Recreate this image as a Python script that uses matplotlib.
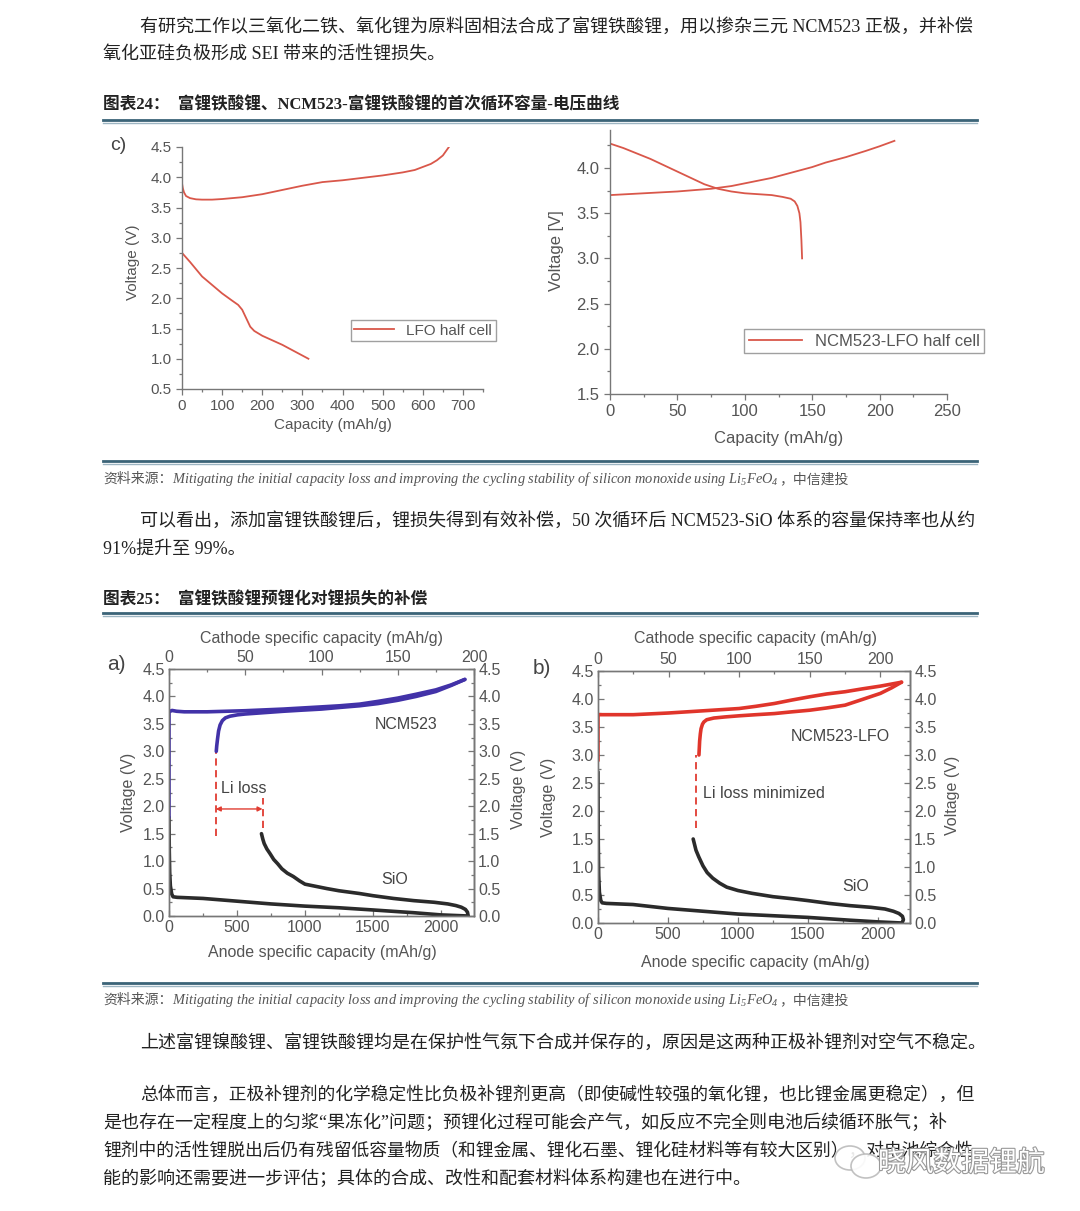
import matplotlib.pyplot as plt
import matplotlib.patheffects as pe
from matplotlib.patches import Ellipse
from matplotlib.ticker import MultipleLocator

plt.rcParams['mathtext.fontset'] = 'custom'
plt.rcParams['mathtext.rm'] = 'Liberation Serif:italic'
plt.rcParams['mathtext.it'] = 'Liberation Serif:italic'

W, H = 1080, 1211
SERIF = ['Liberation Serif', 'Noto Sans CJK SC']
SANS = ['Liberation Sans', 'DejaVu Sans']
GRAY = '#555555'

# ---- chart c: LFO half cell ----
c_chg_cap = [0, 0, 2, 5, 10, 20, 35, 50, 75, 100, 150, 200, 250, 300, 350, 400, 450, 500, 550, 580, 600, 620, 635, 650, 665]
c_chg_v = [2.75, 3.90, 3.82, 3.75, 3.69, 3.655, 3.635, 3.63, 3.63, 3.64, 3.67, 3.72, 3.79, 3.86, 3.92, 3.95, 3.99, 4.03, 4.08, 4.12, 4.17, 4.22, 4.28, 4.36, 4.50]
c_dis_cap = [0, 20, 50, 75, 100, 125, 140, 150, 160, 170, 180, 200, 250, 315]
c_dis_v = [2.75, 2.60, 2.36, 2.22, 2.08, 1.96, 1.89, 1.81, 1.67, 1.53, 1.46, 1.38, 1.23, 1.00]

# ---- chart d: NCM523-LFO half cell ----
d_chg_cap = [0, 0, 25, 50, 75, 90, 100, 110, 120, 130, 140, 150, 160, 175, 190, 200, 211]
d_chg_v = [2.98, 3.70, 3.72, 3.74, 3.77, 3.80, 3.83, 3.86, 3.89, 3.93, 3.97, 4.01, 4.06, 4.12, 4.19, 4.24, 4.30]
d_dis_cap = [0, 10, 20, 30, 40, 50, 60, 70, 80, 90, 100, 110, 120, 128, 134, 137, 139, 140.5, 141.3, 142, 142.5]
d_dis_v = [4.27, 4.22, 4.16, 4.10, 4.03, 3.96, 3.89, 3.82, 3.77, 3.74, 3.72, 3.71, 3.70, 3.68, 3.66, 3.63, 3.58, 3.50, 3.40, 3.20, 3.00]

# ---- chart a: NCM523 (cathode) / SiO (anode) ----
a_ncm_chg_cap = [0, 0, 2, 5, 10, 25, 50, 75, 100, 112, 125, 137, 150, 162, 175, 185, 194]
a_ncm_chg_v = [1.80, 3.72, 3.745, 3.73, 3.72, 3.72, 3.74, 3.77, 3.81, 3.83, 3.86, 3.91, 3.97, 4.04, 4.12, 4.21, 4.31]
a_ncm_dis_cap = [194, 185, 175, 162, 150, 137, 125, 112, 100, 87, 75, 60, 50, 45, 40, 37, 35, 33.5, 32.5, 31.8, 31.3, 31]
a_ncm_dis_v = [4.31, 4.20, 4.09, 4.00, 3.93, 3.87, 3.83, 3.80, 3.77, 3.75, 3.73, 3.70, 3.68, 3.665, 3.64, 3.61, 3.56, 3.48, 3.37, 3.22, 3.10, 3.00]
a_sio_lith_cap = [0, 2, 5, 10, 20, 30, 60, 250, 500, 750, 1000, 1250, 1500, 1800, 2000, 2100, 2200]
a_sio_lith_v = [1.80, 1.20, 0.80, 0.55, 0.40, 0.35, 0.34, 0.32, 0.27, 0.22, 0.18, 0.15, 0.11, 0.06, 0.02, 0.01, 0.00]
a_sio_del_cap = [2200, 2195, 2180, 2150, 2110, 2050, 1950, 1800, 1650, 1500, 1400, 1250, 1160, 1080, 1000, 960, 914, 870, 830, 800, 770, 742, 720, 700, 690, 680]
a_sio_del_v = [0.00, 0.07, 0.12, 0.16, 0.19, 0.22, 0.25, 0.28, 0.32, 0.37, 0.41, 0.46, 0.50, 0.54, 0.58, 0.64, 0.72, 0.78, 0.86, 0.95, 1.03, 1.14, 1.22, 1.32, 1.40, 1.50]
a_loss = [344, 688]

# ---- chart b: NCM523-LFO (cathode) / SiO (anode) ----
b_chg_cap = [0, 0, 25, 50, 75, 100, 112, 125, 137, 150, 162, 175, 187, 200, 215]
b_chg_v = [2.90, 3.72, 3.72, 3.75, 3.79, 3.83, 3.87, 3.92, 3.98, 4.04, 4.09, 4.13, 4.18, 4.23, 4.30]
b_dis_cap = [215, 208, 200, 187, 175, 162, 150, 137, 125, 112, 100, 90, 82, 77, 75, 74, 73, 72.5, 72, 71.5]
b_dis_v = [4.30, 4.20, 4.10, 3.99, 3.89, 3.84, 3.80, 3.77, 3.74, 3.72, 3.70, 3.68, 3.66, 3.63, 3.59, 3.55, 3.47, 3.38, 3.25, 3.00]
b_sio_lith_cap = [0, 2, 5, 10, 20, 30, 60, 250, 500, 750, 1000, 1250, 1500, 1800, 2000, 2172]
b_sio_lith_v = [2.70, 1.40, 0.85, 0.55, 0.40, 0.36, 0.35, 0.33, 0.26, 0.21, 0.16, 0.13, 0.10, 0.05, 0.02, 0.00]
b_sio_del_cap = [2172, 2182, 2175, 2150, 2110, 2050, 1950, 1800, 1650, 1500, 1400, 1250, 1100, 1000, 920, 870, 820, 780, 750, 720, 700, 690, 680]
b_sio_del_v = [0.00, 0.06, 0.12, 0.17, 0.21, 0.25, 0.28, 0.31, 0.35, 0.40, 0.43, 0.47, 0.53, 0.58, 0.64, 0.71, 0.80, 0.90, 1.02, 1.18, 1.30, 1.40, 1.50]
b_loss = 697

fig = plt.figure(figsize=(W / 100, H / 100), dpi=100)
page = fig.add_axes([0, 0, 1, 1])
page.set_xlim(0, W)
page.set_ylim(H, 0)
page.axis('off')


def fx(x):
    return x / W


def fy(y):
    return 1 - y / H


def add_ax(box):
    x0, y0, x1, y1 = box
    return fig.add_axes([fx(x0), fy(y1), (x1 - x0) / W, (y1 - y0) / H])


def text(x, y, s, **kw):
    kw.setdefault('family', SERIF)
    kw.setdefault('fontsize', 13)
    kw.setdefault('va', 'center')
    kw.setdefault('color', '#222222')
    return page.text(x, y, s, **kw)


def rule(y):
    page.plot([103, 977], [y, y], lw=2.0, color='#3b6478')
    page.plot([103, 977], [y + 3, y + 3], lw=1.0, color='#9db5c2')


def source(y):
    kw = dict(color='#555555', va='center')
    t1 = text(103, y, '资料来源：', family=['Noto Sans CJK SC'], fontsize=10, **kw)
    t2 = page.annotate('Mitigating the initial capacity loss and improving the cycling stability of '
                       'silicon monoxide using Li$_5$FeO$_4$', xy=(1, 0.5), xycoords=t1,
                       family='Liberation Serif', style='italic', ha='left', fontsize=10.4, **kw)
    page.annotate('，中信建投', xy=(1, 0.5), xycoords=t2, family=['Noto Sans CJK SC'],
                  ha='left', fontsize=10, **kw)


def style_axes(ax, size, direction):
    for s in ax.spines.values():
        s.set_color('#777777')
        s.set_linewidth(1.0)
    ax.tick_params(which='both', direction=direction, colors='#777777', labelcolor=GRAY,
                   labelsize=size, width=0.9)
    ax.tick_params(which='major', length=4)
    ax.tick_params(which='minor', length=2.5)
    for lab in ax.get_xticklabels() + ax.get_yticklabels():
        lab.set_family(SANS)


# ---------------- page text ----------------
text(140, 27, '有研究工作以三氧化二铁、氧化锂为原料固相法合成了富锂铁酸锂，用以掺杂三元 NCM523 正极，并补偿')
text(103, 55, '氧化亚硅负极形成 SEI 带来的活性锂损失。')
text(103, 105, '图表24：  富锂铁酸锂、NCM523-富锂铁酸锂的首次循环容量-电压曲线', fontsize=12, weight='bold')
rule(120)
rule(461)
source(479)
text(140, 521, '可以看出，添加富锂铁酸锂后，锂损失得到有效补偿，50 次循环后 NCM523-SiO 体系的容量保持率也从约')
text(103, 549, '91%提升至 99%。')
text(103, 600, '图表25：  富锂铁酸锂预锂化对锂损失的补偿', fontsize=12, weight='bold')
rule(613)
rule(983)
source(1000)
text(140, 1043, '上述富锂镍酸锂、富锂铁酸锂均是在保护性气氛下合成并保存的，原因是这两种正极补锂剂对空气不稳定。')
text(140, 1095, '总体而言，正极补锂剂的化学稳定性比负极补锂剂更高（即使碱性较强的氧化锂，也比锂金属更稳定），但',
     fontsize=12.8)
text(103, 1123, '是也存在一定程度上的匀浆“果冻化”问题；预锂化过程可能会产气，如反应不完全则电池后续循环胀气；补')
text(103, 1151, '锂剂中的活性锂脱出后仍有残留低容量物质（和锂金属、锂化石墨、锂化硅材料等有较大区别），对电池综合性',
     fontsize=12.8)
text(103, 1179, '能的影响还需要进一步评估；具体的合成、改性和配套材料体系构建也在进行中。')

# ---------------- chart c ----------------
box_c = (182, 147, 483, 389)
ax = add_ax(box_c)
ax.plot(c_chg_cap, c_chg_v, color='#d9574a', lw=1.3, label='LFO half cell')
ax.plot(c_dis_cap, c_dis_v, color='#d9574a', lw=1.3)
ax.set_xlim(0, 750)
ax.set_ylim(0.5, 4.5)
ax.set_xticks(range(0, 701, 100))
ax.set_yticks([0.5, 1.0, 1.5, 2.0, 2.5, 3.0, 3.5, 4.0, 4.5])
ax.xaxis.set_minor_locator(MultipleLocator(50))
ax.yaxis.set_minor_locator(MultipleLocator(0.25))
ax.spines['top'].set_visible(False)
ax.spines['right'].set_visible(False)
ax.patch.set_alpha(0)
style_axes(ax, 11, 'out')
leg = ax.legend(loc='lower left', bbox_to_anchor=((343 - 182) / 301, (389 - 349) / 242),
                frameon=True, fancybox=False, borderpad=0.25, handlelength=2.6,
                prop={'family': SANS, 'size': 11}, labelcolor=GRAY)
leg.get_frame().set_edgecolor('#888888')
text(333, 425, 'Capacity (mAh/g)', family=SANS, fontsize=11, color=GRAY, ha='center')
text(133, 262, 'Voltage (V)', family=SANS, fontsize=11, color=GRAY, ha='center', rotation=90)
text(110, 145, 'c)', family=SANS, fontsize=14, color='#444444')

# ---------------- chart d ----------------
box_d = (610, 130, 947, 394)
ax = add_ax(box_d)
ax.plot(d_chg_cap, d_chg_v, color='#d9574a', lw=1.3, label='NCM523-LFO half cell')
ax.plot(d_dis_cap, d_dis_v, color='#d9574a', lw=1.3)
ax.set_xlim(0, 250)
ax.set_ylim(1.5, 4.42)
ax.set_xticks(range(0, 251, 50))
ax.set_yticks([1.5, 2.0, 2.5, 3.0, 3.5, 4.0])
ax.xaxis.set_minor_locator(MultipleLocator(25))
ax.yaxis.set_minor_locator(MultipleLocator(0.25))
ax.spines['top'].set_visible(False)
ax.spines['right'].set_visible(False)
ax.patch.set_alpha(0)
style_axes(ax, 12, 'out')
leg = ax.legend(loc='lower left', bbox_to_anchor=((736 - 610) / 337, (394 - 361) / 264),
                frameon=True, fancybox=False, borderpad=0.25, handlelength=3.2,
                prop={'family': SANS, 'size': 12}, labelcolor=GRAY)
leg.get_frame().set_edgecolor('#888888')
text(779, 438, 'Capacity (mAh/g)', family=SANS, fontsize=12, color=GRAY, ha='center')
text(557, 251, 'Voltage [V]', family=SANS, fontsize=12, color=GRAY, ha='center', rotation=90)


# ---------------- charts a and b ----------------
def dual_chart(box, an_max, ca_max, ncm, sio, color):
    ax = add_ax(box)
    ax.set_xlim(0, an_max)
    ax.set_ylim(0, 4.5)
    ax.set_xticks(range(0, 2001, 500))
    ax.set_yticks([0.0, 0.5, 1.0, 1.5, 2.0, 2.5, 3.0, 3.5, 4.0, 4.5])
    ax.xaxis.set_minor_locator(MultipleLocator(250))
    ax.yaxis.set_minor_locator(MultipleLocator(0.25))
    ax.yaxis.set_major_formatter(plt.FormatStrFormatter('%.1f'))
    for cap, v in sio:
        ax.plot(cap, v, color='#2b2b2b', lw=2.6, solid_capstyle='round', solid_joinstyle='round')
    top = ax.twiny()
    top.set_xlim(0, ca_max)
    top.set_ylim(0, 4.5)
    top.set_xticks(range(0, 201, 50))
    top.xaxis.set_minor_locator(MultipleLocator(25))
    for cap, v in ncm:
        top.plot(cap, v, color=color, lw=2.6, solid_capstyle='round', solid_joinstyle='round')
    right = ax.secondary_yaxis('right')
    right.set_yticks([0.0, 0.5, 1.0, 1.5, 2.0, 2.5, 3.0, 3.5, 4.0, 4.5])
    right.yaxis.set_minor_locator(MultipleLocator(0.25))
    right.yaxis.set_major_formatter(plt.FormatStrFormatter('%.1f'))
    for a in (ax, top, right):
        style_axes(a, 11.5, 'in')
        a.tick_params(pad=3)
    return ax


box_a = (169, 669, 474, 916)
ax = dual_chart(box_a, 2243, 197,
                [(a_ncm_chg_cap, a_ncm_chg_v), (a_ncm_dis_cap, a_ncm_dis_v)],
                [(a_sio_lith_cap, a_sio_lith_v), (a_sio_del_cap, a_sio_del_v)],
                '#4232a8')
ax.plot([a_loss[0], a_loss[0]], [1.45, 3.0], color='#e03c31', lw=1.3, ls=(0, (4, 2.5)))
ax.plot([a_loss[1], a_loss[1]], [1.6, 2.15], color='#e03c31', lw=1.3, ls=(0, (4, 2.5)))
ax.annotate('', xy=(a_loss[0], 1.95), xytext=(a_loss[1], 1.95),
            arrowprops=dict(arrowstyle='<|-|>', color='#e03c31', lw=1.0, shrinkA=0, shrinkB=0,
                            mutation_scale=7))
ax.text(380, 2.32, 'Li loss', family=SANS, fontsize=11.5, color='#444444', va='center')
ax.text(1745, 3.49, 'NCM523', family=SANS, fontsize=11.5, color='#444444', ha='center', va='center')
ax.text(1656, 0.66, 'SiO', family=SANS, fontsize=11.5, color='#444444', ha='center', va='center')
text(322, 638, 'Cathode specific capacity (mAh/g)', family=SANS, fontsize=11.5, color=GRAY, ha='center')
text(322, 953, 'Anode specific capacity (mAh/g)', family=SANS, fontsize=11.5, color=GRAY, ha='center')
text(129, 792, 'Voltage (V)', family=SANS, fontsize=11.5, color=GRAY, ha='center', rotation=90)
text(518, 789, 'Voltage (V)', family=SANS, fontsize=11.5, color=GRAY, ha='center', rotation=90)
text(107, 664, 'a)', family=SANS, fontsize=15, color='#444444')

box_b = (598, 671, 910, 923)
ax = dual_chart(box_b, 2229, 221,
                [(b_chg_cap, b_chg_v), (b_dis_cap, b_dis_v)],
                [(b_sio_lith_cap, b_sio_lith_v), (b_sio_del_cap, b_sio_del_v)],
                '#e0352b')
ax.plot([b_loss, b_loss], [1.69, 3.0], color='#e03c31', lw=1.3, ls=(0, (4, 2.5)))
ax.text(752, 2.32, 'Li loss minimized', family=SANS, fontsize=11.5, color='#444444', va='center')
ax.text(1730, 3.33, 'NCM523-LFO', family=SANS, fontsize=11.5, color='#444444', ha='center', va='center')
ax.text(1842, 0.65, 'SiO', family=SANS, fontsize=11.5, color='#444444', ha='center', va='center')
text(755, 638, 'Cathode specific capacity (mAh/g)', family=SANS, fontsize=11.5, color=GRAY, ha='center')
text(755, 962, 'Anode specific capacity (mAh/g)', family=SANS, fontsize=11.5, color=GRAY, ha='center')
text(548, 797, 'Voltage (V)', family=SANS, fontsize=11.5, color=GRAY, ha='center', rotation=90)
text(953, 795, 'Voltage (V)', family=SANS, fontsize=11.5, color=GRAY, ha='center', rotation=90)
text(533, 668, 'b)', family=SANS, fontsize=15, color='#444444')

# ---------------- watermark ----------------
for (cx, cy, w, h) in [(850, 1158, 30, 24), (866, 1166, 30, 24)]:
    fig.add_artist(Ellipse((fx(cx), fy(cy)), w / W, h / H, transform=fig.transFigure,
                           facecolor='white', edgecolor='#bbbbbb', lw=1.2, alpha=0.9))
wm = fig.text(fx(878), fy(1163), '晓风数据锂航', family=['Noto Sans CJK SC'], fontsize=20,
              color='white', va='center',
              path_effects=[pe.withStroke(linewidth=1.6, foreground='#999999')])

fig.savefig('out.png', dpi=100, facecolor='white')
